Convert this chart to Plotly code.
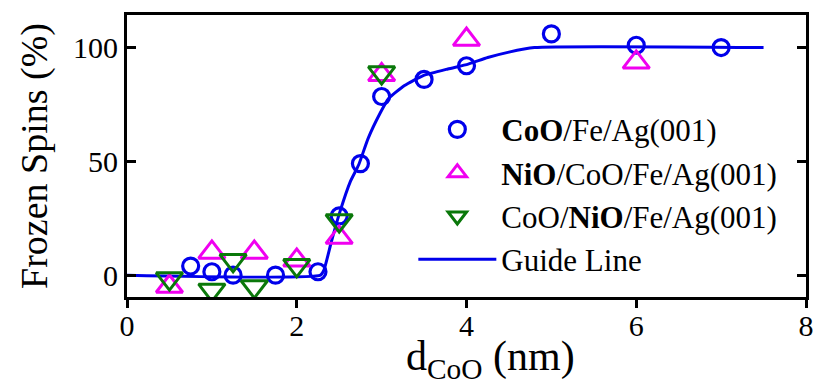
import plotly.graph_objects as go

# CoO/Fe/Ag(001)
coo_x = [0.75, 1.0, 1.25, 1.75, 2.25, 2.5, 2.75, 3.0, 3.5, 4.0, 5.0, 6.0, 7.0]
coo_y = [4, 1.5, 0, 0, 1.5, 26, 49, 78.5, 86, 92, 106, 101, 100]

# NiO/CoO/Fe/Ag(001)
nio_coo_x = [0.5, 1.0, 1.5, 2.0, 2.5, 3.0, 4.0, 6.0]
nio_coo_y = [-5, 10, 10, 6.5, 16.5, 88, 103.5, 93.5]

# CoO/NiO/Fe/Ag(001)
coo_nio_x = [0.5, 1.0, 1.25, 1.5, 2.0, 2.5, 3.0]
coo_nio_y = [-1.5, -6.5, 6.5, -5, 4.3, 24, 89]

# Guide line
guide_x = [0, 2.28, 2.32, 2.41, 2.51, 2.63, 2.73, 2.84, 2.98, 3.08, 3.27, 3.49, 3.78, 4.02, 4.25, 4.5, 4.8, 7.5]
guide_y = [0, 0, 2.2, 15, 28, 41, 48.5, 60, 71, 77.5, 83.3, 87.7, 90.6, 92.7, 95.6, 98, 100, 100]

x_ticks = [0, 2, 4, 6, 8]
y_ticks = [0, 50, 100]

BLUE = "rgb(0,0,235)"
MAGENTA = "rgb(240,0,240)"
GREEN = "rgb(10,120,10)"
FONT = "Liberation Serif"

fig = go.Figure()
fig.add_trace(go.Scatter(
    x=guide_x, y=guide_y, mode="lines", name="Guide Line", legendrank=4,
    line=dict(color=BLUE, width=3, shape="spline", smoothing=0.5),
))
fig.add_trace(go.Scatter(
    x=coo_x, y=coo_y, mode="markers", name="<b>CoO</b>/Fe/Ag(001)", legendrank=1,
    marker=dict(symbol="circle-open", size=16, color=BLUE, line=dict(width=3.2, color=BLUE)),
))
fig.add_trace(go.Scatter(
    x=nio_coo_x, y=nio_coo_y, mode="markers", name="<b>NiO</b>/CoO/Fe/Ag(001)", legendrank=2,
    marker=dict(symbol="triangle-up-open", size=23, color=MAGENTA, line=dict(width=3, color=MAGENTA)),
))
fig.add_trace(go.Scatter(
    x=coo_nio_x, y=coo_nio_y, mode="markers", name="CoO/<b>NiO</b>/Fe/Ag(001)", legendrank=3,
    marker=dict(symbol="triangle-down-open", size=23, color=GREEN, line=dict(width=3, color=GREEN)),
))

fig.update_layout(
    width=810, height=376,
    margin=dict(l=119, r=8, t=4, b=87),
    paper_bgcolor="white", plot_bgcolor="white",
    font=dict(family=FONT, size=30, color="black"),
    showlegend=True,
    legend=dict(
        x=0.4217, y=0.689, xanchor="left", yanchor="top",
        font=dict(family=FONT, size=31, color="black"),
        bgcolor="rgba(0,0,0,0)", borderwidth=0,
        itemwidth=78, tracegroupgap=0,
        traceorder="normal",
    ),
    annotations=[dict(
        text="d<sub>CoO</sub> (nm)", xref="paper", yref="paper",
        x=0.536, y=-0.221, xanchor="center", yanchor="middle",
        showarrow=False, font=dict(family=FONT, size=42, color="black"),
    )],
)
fig.update_xaxes(
    range=[0, 8], tickvals=x_ticks, ticktext=[str(v) for v in x_ticks],
    showgrid=False, zeroline=False,
    showline=True, linecolor="black", linewidth=3, mirror=True,
    ticks="outside", ticklen=8, tickwidth=3, tickcolor="black",
    ticklabelstandoff=-8,
    tickfont=dict(family=FONT, size=30),
)
fig.update_yaxes(
    range=[-9.6, 114.3], tickvals=y_ticks, ticktext=[str(v) for v in y_ticks],
    showgrid=False, zeroline=False,
    showline=True, linecolor="black", linewidth=3, mirror="ticks",
    ticks="inside", ticklen=9, tickwidth=3, tickcolor="black",
    tickfont=dict(family=FONT, size=30),
    title=dict(text="Frozen Spins (%)", font=dict(family=FONT, size=38), standoff=14),
)

fig.write_html("out.html")
